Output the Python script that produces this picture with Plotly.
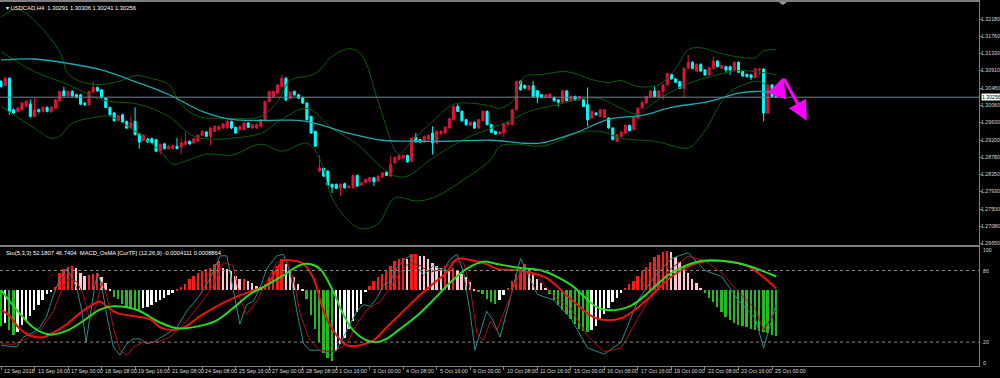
import plotly.graph_objects as go

# ---------------- data ----------------
title_text = "USDCAD,H4  1.30291 1.30306 1.30241 1.30256"
sub_title = "Sto(5,3,3) 52.1807 46.7404  MACD_OsMA [CurTF] (12,26,9) -0.0004111 0.0008864"
last_price = 1.30256

opens = [1.30641,1.30543,1.30723,1.29946,1.29906,1.29946,1.30028,1.30085,1.29783,1.29946,
         1.29906,1.30004,1.29906,1.29987,1.30167,1.30412,1.30290,1.30396,1.30314,1.30314,
         1.30110,1.30069,1.30379,1.30494,1.30437,1.30232,1.30004,1.29865,1.29677,1.29824,
         1.29660,1.29497,1.29660,1.29350,1.29187,1.29227,1.29236,1.29211,1.28925,1.29105,
         1.28990,1.28990,1.29048,1.29023,1.29089,1.29170,1.29129,1.29170,1.29317,1.29399,
         1.29293,1.29415,1.29456,1.29497,1.29497,1.29660,1.29513,1.29456,1.29456,1.29620,
         1.29497,1.29497,1.29538,1.29677,1.30151,1.30273,1.30355,1.30518,1.30723,1.30216,
         1.30396,1.30314,1.30249,1.30110,1.29783,1.29415,1.28435,1.28500,1.28435,1.28108,
         1.28108,1.28010,1.28124,1.28026,1.28026,1.28329,1.28092,1.28149,1.28190,1.28272,
         1.28190,1.28288,1.28410,1.28312,1.28639,1.28721,1.28762,1.28819,1.28680,1.29268,
         1.29211,1.29154,1.29211,1.29374,1.29129,1.29350,1.29374,1.29497,1.29701,1.30028,
         1.29906,1.29701,1.29562,1.29636,1.29497,1.29677,1.29906,1.29579,1.29415,1.29350,
         1.29374,1.29579,1.29579,1.29946,1.30641,1.30543,1.30437,1.30535,1.30412,1.30314,
         1.30249,1.30249,1.30249,1.30191,1.30134,1.30412,1.30167,1.30273,1.30191,1.30191,
         1.30069,1.29742,1.29865,1.29783,1.29758,1.29742,1.29497,1.29170,1.29293,1.29374,
         1.29562,1.29456,1.29742,1.29987,1.30110,1.30273,1.30412,1.30273,1.30396,1.30559,
         1.30820,1.30706,1.30640,1.30477,1.30967,1.31114,1.30902,1.31065,1.30927,1.30804,
         1.30967,1.31147,1.30967,1.31008,1.31008,1.30927,1.31114,1.30886,1.30820,1.30804,
         1.30739,1.30927,1.30951,1.29864,1.30559,1.30291]
highs = [1.30680,1.30760,1.30750,1.29980,1.30020,1.30140,1.30190,1.30200,1.30230,1.29980,
         1.30030,1.30030,1.30040,1.30220,1.30420,1.30518,1.30420,1.30430,1.30340,1.30340,
         1.30130,1.30420,1.30641,1.30520,1.30460,1.30250,1.30020,1.29890,1.29820,1.29850,
         1.29680,1.29783,1.30004,1.29370,1.29340,1.29250,1.29260,1.29230,1.29110,1.29130,
         1.29070,1.29090,1.29252,1.29252,1.29415,1.29190,1.29260,1.29340,1.29440,1.29420,
         1.29520,1.29560,1.29560,1.29620,1.29726,1.29680,1.29530,1.29560,1.29640,1.29640,
         1.29600,1.29610,1.29720,1.30170,1.30420,1.30420,1.30580,1.30804,1.30750,1.30400,
         1.30420,1.30340,1.30270,1.30130,1.29800,1.29430,1.28819,1.28530,1.28460,1.28130,
         1.28130,1.28130,1.28150,1.28090,1.28350,1.28350,1.28170,1.28250,1.28290,1.28290,
         1.28330,1.28410,1.28430,1.28819,1.28800,1.28840,1.28850,1.28840,1.29270,1.29374,
         1.29230,1.29310,1.29340,1.29538,1.29440,1.29440,1.29540,1.29750,1.30050,1.30085,
         1.29930,1.29720,1.29660,1.29660,1.29720,1.29930,1.29930,1.29600,1.29430,1.29420,
         1.29620,1.29660,1.29970,1.30660,1.30670,1.30570,1.30560,1.30657,1.30430,1.30340,
         1.30340,1.30350,1.30270,1.30210,1.30440,1.30430,1.30300,1.30300,1.30290,1.30210,
         1.30494,1.29930,1.29890,1.29970,1.29960,1.29760,1.29520,1.29350,1.29420,1.29580,
         1.29580,1.29780,1.30010,1.30160,1.30300,1.30430,1.30518,1.30440,1.30580,1.30860,
         1.30840,1.30730,1.30660,1.30990,1.31294,1.31140,1.31090,1.31090,1.30950,1.31010,
         1.31253,1.31170,1.31060,1.31030,1.31030,1.31140,1.31140,1.30910,1.30840,1.30830,
         1.30970,1.30967,1.30970,1.30580,1.30580,1.30306]
lows = [1.30490,1.30520,1.29820,1.29830,1.29880,1.29920,1.30000,1.29750,1.29760,1.29870,
        1.29880,1.29880,1.29860,1.29960,1.30140,1.30270,1.30270,1.30260,1.30230,1.30060,
        1.30040,1.30040,1.30360,1.30390,1.30220,1.29980,1.29800,1.29650,1.29660,1.29620,
        1.29470,1.29480,1.29310,1.28990,1.29170,1.29130,1.29110,1.28900,1.28843,1.28970,
        1.28970,1.28970,1.28970,1.28843,1.29070,1.29080,1.29110,1.29150,1.29300,1.29270,
        1.29072,1.29400,1.29440,1.29480,1.29480,1.29470,1.29350,1.29430,1.29440,1.29490,
        1.29480,1.29470,1.29520,1.29660,1.30130,1.30250,1.30330,1.30500,1.30151,1.30200,
        1.30290,1.30210,1.30090,1.29680,1.29350,1.29030,1.28410,1.28290,1.28070,1.27900,
        1.27990,1.27822,1.28000,1.28010,1.28000,1.28040,1.28070,1.28130,1.28170,1.28067,
        1.28170,1.28270,1.28310,1.28290,1.28620,1.28700,1.28740,1.28640,1.28660,1.29130,
        1.29130,1.29130,1.29190,1.28843,1.29110,1.29330,1.29350,1.29470,1.29680,1.29890,
        1.29650,1.29550,1.29540,1.29470,1.29480,1.29660,1.29560,1.29370,1.29330,1.29330,
        1.29268,1.29560,1.29560,1.29930,1.30420,1.30460,1.30420,1.30250,1.30110,1.30230,
        1.30230,1.30230,1.30150,1.30028,1.30120,1.30150,1.30150,1.30170,1.30170,1.30010,
        1.29538,1.29720,1.29800,1.29760,1.29740,1.29480,1.29190,1.29150,1.29270,1.29350,
        1.29410,1.29430,1.29720,1.29970,1.30090,1.30250,1.30250,1.30250,1.30191,1.30540,
        1.30690,1.30600,1.30460,1.30248,1.30940,1.30940,1.30880,1.30880,1.30780,1.30780,
        1.30940,1.30990,1.30950,1.30842,1.30804,1.30900,1.30850,1.30760,1.30740,1.30681,
        1.30720,1.30804,1.29660,1.29840,1.30250,1.30241]
closes = [1.30518,1.30723,1.29906,1.29865,1.29987,1.30110,1.30151,1.29783,1.29946,1.29906,
          1.30004,1.29906,1.30004,1.30191,1.30396,1.30290,1.30396,1.30290,1.30257,1.30085,
          1.30069,1.30396,1.30494,1.30412,1.30249,1.30004,1.29824,1.29677,1.29799,1.29644,
          1.29497,1.29620,1.29334,1.29154,1.29317,1.29154,1.29129,1.28925,1.29089,1.28990,
          1.29048,1.29064,1.28990,1.29129,1.29170,1.29105,1.29236,1.29317,1.29415,1.29293,
          1.29497,1.29538,1.29538,1.29595,1.29660,1.29497,1.29374,1.29538,1.29620,1.29513,
          1.29579,1.29579,1.29701,1.30151,1.30396,1.30396,1.30559,1.30723,1.30191,1.30379,
          1.30314,1.30232,1.30110,1.29701,1.29374,1.29048,1.28517,1.28312,1.28092,1.28043,
          1.28010,1.28108,1.28026,1.28067,1.28329,1.28067,1.28149,1.28231,1.28272,1.28173,
          1.28312,1.28394,1.28329,1.28598,1.28778,1.28819,1.28819,1.28664,1.29252,1.29154,
          1.29154,1.29293,1.29317,1.29129,1.29415,1.29415,1.29513,1.29726,1.30028,1.29906,
          1.29677,1.29579,1.29636,1.29497,1.29701,1.29906,1.29579,1.29391,1.29350,1.29399,
          1.29595,1.29636,1.29946,1.30641,1.30437,1.30477,1.30535,1.30273,1.30249,1.30249,
          1.30314,1.30330,1.30167,1.30134,1.30412,1.30167,1.30273,1.30191,1.30273,1.30028,
          1.29701,1.29906,1.29824,1.29946,1.29946,1.29497,1.29211,1.29334,1.29399,1.29562,
          1.29431,1.29758,1.29987,1.30134,1.30273,1.30412,1.30273,1.30412,1.30559,1.30837,
          1.30706,1.30624,1.30477,1.30967,1.31114,1.30967,1.31065,1.30902,1.30804,1.30984,
          1.31147,1.31008,1.31033,1.30927,1.30927,1.31114,1.30869,1.30780,1.30763,1.30739,
          1.30951,1.30951,1.29864,1.30559,1.30273,1.30256]

tick_labels = ["12 Sep 2018", "13 Sep 16:00", "17 Sep 00:00", "18 Sep 08:00", "19 Sep 16:00",
               "21 Sep 08:00", "24 Sep 08:00", "25 Sep 16:00", "27 Sep 00:00", "28 Sep 08:00",
               "1 Oct 16:00", "3 Oct 00:00", "4 Oct 08:00", "5 Oct 16:00", "9 Oct 00:00",
               "10 Oct 08:00", "11 Oct 16:00", "15 Oct 00:00", "16 Oct 08:00", "17 Oct 16:00",
               "19 Oct 00:00", "22 Oct 08:00", "23 Oct 16:00", "25 Oct 00:00"]
bars_per_label = 8

price_ticks = [1.32180, 1.31760, 1.31330, 1.30910, 1.30480, 1.30060, 1.29630,
               1.29200, 1.28780, 1.28350, 1.27930, 1.27500, 1.27080, 1.26650]

# moving average (teal) read at sample bars
ma_idx = [0, 8, 16, 24, 32, 40, 48, 55, 64, 71, 75, 83, 91, 99, 107, 117, 125, 129, 137, 145, 153, 160, 169, 176, 180, 185]
ma_val = [1.31173, 1.31197, 1.31089, 1.30928, 1.30641, 1.30322, 1.29906, 1.29710, 1.29686, 1.29686,
          1.29612, 1.29367, 1.29196, 1.29171, 1.29171, 1.29196, 1.29122, 1.29129, 1.29374, 1.29710,
          1.29808, 1.30004, 1.30151, 1.30354, 1.30396, 1.30379]

# Bollinger bands (dark green) read at sample bars
bbu_idx = [0, 3, 5, 9, 14, 16, 19, 23, 28, 32, 36, 40, 43, 47, 55, 62, 66, 69, 75, 79, 83, 86, 90, 94, 95,
           98, 103, 108, 113, 117, 119, 122, 125, 129, 135, 141, 145, 148, 152, 157, 161, 164, 167, 172, 180, 182, 185]
bbu_val = [1.32233, 1.32405, 1.32381, 1.32037, 1.31376, 1.30837, 1.30641, 1.30567, 1.30641, 1.30788,
           1.30715, 1.30568, 1.30078, 1.29783, 1.29734, 1.29783, 1.30151, 1.30666, 1.30837, 1.31254,
           1.31450, 1.31303, 1.30151, 1.28950, 1.28852, 1.29171, 1.29661, 1.30078, 1.30102, 1.30029,
           1.29980, 1.30151, 1.30764, 1.30813, 1.30886, 1.30690, 1.30617, 1.30666, 1.30519, 1.30568,
           1.30960, 1.31425, 1.31474, 1.31327, 1.31229, 1.31401, 1.31425]
bbm_idx = [0, 8, 16, 23, 26, 33, 40, 46, 51, 55, 62, 67, 73, 79, 85, 90, 94, 97, 103, 111, 117, 121,
           126, 133, 139, 143, 148, 152, 154, 158, 164, 171, 176, 180, 185]
bbm_val = [1.31376, 1.30886, 1.30568, 1.30225, 1.30151, 1.30078, 1.29783, 1.29294, 1.29220, 1.29245,
           1.29367, 1.29710, 1.29980, 1.29490, 1.29098, 1.28608, 1.28314, 1.28314, 1.28755, 1.29245,
           1.29490, 1.29661, 1.29906, 1.30078, 1.30225, 1.30225, 1.29980, 1.29832, 1.29980, 1.30274,
           1.30592, 1.30813, 1.30911, 1.30886, 1.30813]
bbl_idx = [0, 8, 12, 14, 17, 24, 26, 33, 38, 41, 44, 49, 55, 62, 67, 73, 76, 79, 83, 86, 90, 94, 99,
           103, 111, 117, 119, 123, 129, 133, 137, 143, 148, 156, 164, 166, 169, 171, 174, 178, 181, 185]
bbl_val = [1.30029, 1.29490, 1.29245, 1.29294, 1.29612, 1.29783, 1.29783, 1.29343, 1.28926, 1.28608,
           1.28681, 1.28853, 1.28828, 1.29098, 1.28926, 1.29122, 1.28755, 1.27775, 1.27211, 1.27015,
           1.27138, 1.27775, 1.27701, 1.27775, 1.28264, 1.28730, 1.29049, 1.29098, 1.29049, 1.29171,
           1.29367, 1.29416, 1.29245, 1.29171, 1.29000, 1.29171, 1.29588, 1.29980, 1.30396, 1.30592,
           1.30641, 1.30347]

# indicator window (0..100 scale); OsMA histogram as offsets from its zero level
osma_zero = 63.6
osma = [-30, -27, -33, -37, -35, -29, -25, -21, -16, -12, -8, -3, -1, 3, 15, 18, 20, 20.5, 19, 15,
        12, 13, 13.5, 15, 11, 6, 1.5, -5.5, -7, -11, -13.5, -15, -15.5, -16, -15, -13.6, -12.3, -10, -8, -6.3,
        -4, -2, 0.5, 2.7, 5.5, 9.5, 12.3, 15, 16.4, 17.7, 19, 21.8, 24.5, 19, 18.3, 16.4, 12.3, 9.5, 9.5, 8.2,
        6.3, 4, 2.7, 5.5, 11, 16.4, 20.5, 26.5, 21.8, 16.4, 11, 5.5, 0.5, -7, -20.5, -32.7, -43.6, -52, -57, -58.7,
        -50.4, -45, -39.5, -32.7, -26, -17.7, -11, -1, 4, 8, 11, 13.6, 16.4, 20.5, 24.5, 26.5, 27.3, 26, 30.8, 30.8,
        29.2, 28.6, 26, 23.2, 20.5, 19, 20.5, 16.4, 19, 16.4, 13.6, 11, 6.8, 0.5, -1.4, -2.7, -6.8, -9.5, -11, -8,
        -4, 2, 8, 14, 20, 22, 19, 15, 10, 6, 2, -3, -8, -12, -16, -20, -24, -28, -32, -34,
        -35, -33, -30, -25, -20, -15, -10, -6, -2, 2, 5, 8, 12, 16, 20, 24, 28, 30, 32, 33,
        32, 28, 24, 20, 15, 10, 6, 2, -2, -6, -10, -14, -18, -22, -25, -27, -29, -30, -31, -32,
        -33, -34, -35, -36, -37, -38]

# thick smooth lines
green_idx = [0, 3.7, 7.7, 11.7, 15.7, 19.6, 23.6, 26.8, 30, 33.2, 37.2, 41.1, 43.5, 47.5, 51.5, 55.4, 59.4,
             63.4, 67.4, 71.4, 73.7, 76.1, 79.3, 81.7, 84.1, 87.3, 89.7, 92, 95.2, 99.2, 103.2, 107.2, 111.1,
             115.1, 118.3, 124, 129, 136, 143, 150, 160, 167, 176, 185]
green_val = [63.6, 47.3, 32.3, 26.3, 29.6, 37.7, 47.3, 50, 49.2, 45.9, 37.7, 32.3, 31.5, 33.6, 38.3, 48.6, 60.1,
             67.7, 75.9, 84.6, 85.5, 81.4, 62.3, 43.2, 29.6, 21.4, 20, 22.7, 30.9, 41.8, 55.4, 69.9, 81.4,
             87.4, 85.5, 82, 80, 68, 48, 50, 78, 88, 86, 75]
red_idx = [0, 2.1, 4.5, 6.9, 10.1, 13.3, 15.7, 18.9, 21.2, 23.6, 25.2, 27.6, 31.6, 35.6, 38, 41.1, 44.3, 47.5,
           51.5, 55.4, 59.4, 63.4, 65.8, 67.4, 69.8, 72.2, 74.6, 77, 79.3, 82.5, 85.7, 88.9, 92, 95.2, 99.2,
           103.2, 106.4, 108.8, 112.7, 115.9, 118.3, 124, 130, 136, 142, 148, 154, 160, 166, 172, 178, 185]
red_val = [47.3, 41.8, 30.9, 25.5, 24.1, 29.6, 35, 44.5, 50, 54.1, 50, 44.5, 41.8, 39.1, 32.3, 30.1, 33.6, 41.8,
           50, 56.8, 62.3, 67.7, 81.4, 88.2, 88.2, 85.5, 73.2, 45.9, 29.6, 17.3, 17.3, 21.4, 32.3, 43.2, 56.8,
           69.1, 78.6, 89.5, 88.2, 85.5, 81.4, 80, 74, 56, 40, 40, 55, 75, 86, 88, 84, 65]

# stochastic (thin)
sto_k_idx = [0, 3.7, 5.3, 7.7, 9.3, 10.9, 12.5, 14.1, 15.7, 16.9, 18.1, 19.3, 20.3, 21.2, 22.4, 23.2, 24, 25.2,
             26.8, 28.4, 30, 31.6, 33.2, 34.8, 36.4, 39.5, 42, 44.3, 47.5, 49.9, 52.3, 53.9, 55.4, 57, 58.6, 60.2,
             61.8, 63.4, 65.8, 67.4, 69, 70.6, 72.2, 73.7, 76.1, 78.5, 80.1, 81.7, 83.3, 84.9, 86.5, 88.1, 89.7,
             91.3, 92.8, 94.4, 96, 97.6, 99.2, 100.8, 103.2, 105.6, 107.2, 108.8, 110.4, 112, 113.1, 114.7,
             115.9, 117.5, 119.1, 124, 128, 132, 136, 140, 144, 148, 152, 156, 160, 164, 168, 172, 176, 180, 182, 185]
sto_k = [17.3, 15.9, 24.1, 28.2, 32.3, 41.8, 59.5, 73.2, 81.4, 74.5, 65, 45.9, 20, 40.5, 67.7, 77.3, 67.7, 43.2,
         15.9, 9.1, 18.6, 22.7, 22.7, 18.6, 20, 26.8, 32.3, 45.9, 59.5, 73.2, 92.3, 92.3, 65, 35, 51.4, 54.1,
         65, 81.4, 92.3, 93.6, 78.6, 45.9, 18.6, 13.2, 13.2, 9.1, 13.2, 24.1, 35, 45.9, 51.4, 50, 56.8,
         67.7, 70.5, 81.4, 88.2, 92.3, 84.1, 75.9, 84.1, 80, 89.5, 93.6, 78.6, 43.2, 13.2, 32.3,
         45.9, 37.7, 24.1, 90, 60, 55, 40, 15, 10, 20, 55, 75, 90, 95, 80, 75, 55, 40, 15, 52]
sto_d_idx = [0, 2.9, 6.1, 9.3, 12.5, 14.9, 16.5, 18.1, 19.7, 21.2, 22.8, 24, 25.2, 26.8, 28.4, 30, 31.6, 34,
             37.2, 40.3, 43.5, 47.5, 50.7, 53.1, 55.4, 57, 58.6, 61, 63.4, 65.8, 68.2, 69.8, 71.4, 73.7, 76.1,
             79.3, 82.5, 84.9, 87.3, 90.5, 92.8, 95.2, 97.6, 100, 102.4, 105.6, 108, 110.4, 112, 113.6, 115.1,
             116.8, 118.3, 124, 128, 132, 136, 140, 144, 148, 152, 156, 160, 164, 168, 172, 176, 180, 182, 185]
sto_d = [18.6, 18.1, 22.7, 29.6, 45.9, 67.7, 73.2, 70.5, 59.5, 37.7, 51.4, 70.5, 59.5, 32.3, 13.2, 9.1, 15.9, 20,
         20, 24.1, 35, 51.4, 67.7, 86.8, 84.1, 56.8, 43.2, 54.1, 70.5, 86.8, 89.5, 73.2, 43.2, 21.4, 13.2,
         11.8, 18.6, 35, 47.3, 54.1, 65, 78.6, 86.8, 84.1, 78.6, 81.4, 88.2, 86.8, 65, 26.8, 21.4,
         37.7, 29.6, 80, 75, 58, 48, 25, 12, 15, 40, 65, 82, 92, 88, 78, 62, 48, 30, 47]
sto_levels = [80, 20]
sub_axis_labels = [100, 80, 20, 0]

# hand-drawn magenta arrows: (from bar, from price, to bar, to price)
arrows = [(185, 1.30232, 186.7, 1.30739), (186.7, 1.30739, 192.3, 1.29678)]

# ---------------- figure ----------------
BG = "#000000"
GRID = "#808080"
TXT = "#d8d8d8"
BULL = "#dc143c"
BEAR = "#00ffff"
FONT = "Liberation Sans"
FS = 5.4

n = len(closes)
idx = list(range(n))
x_range = [-0.24, 233.4]

fig = go.Figure()

for xs, ys in ((bbu_idx, bbu_val), (bbm_idx, bbm_val), (bbl_idx, bbl_val)):
    fig.add_trace(go.Scatter(x=xs, y=ys, mode="lines", line=dict(color="#0b5d0b", width=1, shape="spline"),
                             hoverinfo="skip", xaxis="x", yaxis="y"))
fig.add_trace(go.Scatter(x=ma_idx, y=ma_val, mode="lines", line=dict(color="#1fa9ad", width=1.3, shape="spline"),
                         hoverinfo="skip", xaxis="x", yaxis="y"))

fig.add_trace(go.Candlestick(
    x=idx, open=opens, high=highs, low=lows, close=closes,
    increasing=dict(line=dict(color=BULL, width=1), fillcolor=BULL),
    decreasing=dict(line=dict(color=BEAR, width=1), fillcolor=BEAR),
    whiskerwidth=0, xaxis="x", yaxis="y", hoverinfo="skip"))

hist_colors = []
for k, v in enumerate(osma):
    prev = osma[k - 1] if k > 0 else v
    if v >= 0:
        hist_colors.append("#ff1a1a" if v >= prev else "#ffc8d0")
    else:
        hist_colors.append("#22bb22" if v <= prev else "#ffffff")
fig.add_trace(go.Bar(x=idx, y=osma, base=osma_zero, marker=dict(color=hist_colors, line=dict(width=0)),
                     width=0.45, xaxis="x2", yaxis="y2", hoverinfo="skip"))

fig.add_trace(go.Scatter(x=sto_k_idx, y=sto_k, mode="lines", line=dict(color="#2a8c8c", width=1),
                         xaxis="x2", yaxis="y2", hoverinfo="skip"))
fig.add_trace(go.Scatter(x=sto_d_idx, y=sto_d, mode="lines", line=dict(color="#b01010", width=1),
                         xaxis="x2", yaxis="y2", hoverinfo="skip"))
fig.add_trace(go.Scatter(x=red_idx, y=red_val, mode="lines", line=dict(color="#ee1111", width=2, shape="spline"),
                         xaxis="x2", yaxis="y2", hoverinfo="skip"))
fig.add_trace(go.Scatter(x=green_idx, y=green_val, mode="lines", line=dict(color="#22dd22", width=2, shape="spline"),
                         xaxis="x2", yaxis="y2", hoverinfo="skip"))

shapes = [dict(type="line", xref="x", yref="y", x0=x_range[0], x1=x_range[1], y0=last_price, y1=last_price,
               line=dict(color="#708090", width=1))]
for lv in sto_levels:
    shapes.append(dict(type="line", xref="x2", yref="y2", x0=x_range[0], x1=x_range[1], y0=lv, y1=lv,
                       line=dict(color="#8a8a8a", width=1, dash="dot")))
# chart-shift marker at the top
shapes.append(dict(type="path", xref="x", yref="paper", path="M 185.6 1 L 187.6 1 L 186.6 0.992 Z",
                   fillcolor="#9a9a9a", line=dict(width=0)))

annotations = [
    dict(text="\u25be " + title_text, xref="paper", yref="paper", x=0.004, y=1.0, xanchor="left",
         yanchor="top", yshift=-1, showarrow=False, font=dict(family=FONT, size=5.8, color="#ffffff")),
    dict(text=sub_title, xref="paper", yref="y2 domain", x=0.004, y=1.0, xanchor="left",
         yanchor="top", yshift=-1, showarrow=False, font=dict(family=FONT, size=5.8, color="#ffffff")),
    dict(text=f"{last_price:.5f}", xref="paper", yref="y", x=1.0, y=last_price, xanchor="left",
         yanchor="middle", xshift=2, showarrow=False, bgcolor="#ffffff", borderpad=0,
         font=dict(family=FONT, size=5.2, color="#000000")),
]
for v in sub_axis_labels:
    shift = -3 if v == 100 else (3 if v == 0 else 0)
    annotations.append(dict(text=str(v), xref="paper", yref="y2", x=1.0, y=v, xanchor="left", yanchor="middle",
                            xshift=2, yshift=shift, showarrow=False, font=dict(family=FONT, size=5.2, color=TXT)))
for k, lab in enumerate(tick_labels):
    annotations.append(dict(text=lab, xref="x2", yref="paper", x=k * bars_per_label, y=0, xanchor="left",
                            yanchor="top", xshift=1, yshift=0, showarrow=False,
                            font=dict(family=FONT, size=FS, color=TXT)))
for x0, y0, x1, y1 in arrows:
    annotations.append(dict(x=x1, y=y1, ax=x0, ay=y0, xref="x", yref="y", axref="x", ayref="y",
                            showarrow=True, arrowhead=2, arrowsize=1.3, arrowwidth=3,
                            arrowcolor="#ff00ff", text=""))

fig.update_layout(
    width=1000, height=378, paper_bgcolor=BG, plot_bgcolor=BG, showlegend=False,
    margin=dict(l=0, r=21, t=0, b=12, pad=0), bargap=0, shapes=shapes, annotations=annotations,
    xaxis=dict(domain=[0, 1], range=x_range, showgrid=False, zeroline=False, showticklabels=False,
               showline=True, linecolor=GRID, linewidth=2, mirror=True, anchor="y", rangeslider=dict(visible=False)),
    yaxis=dict(domain=[0.3333, 1], range=[1.26623, 1.32601], side="right", showgrid=False, zeroline=False,
               tickvals=price_ticks, ticktext=[f"{p:.5f}" for p in price_ticks], ticks="outside", ticklen=2,
               ticklabelstandoff=-2,
               tickcolor=GRID, tickfont=dict(family=FONT, size=5.2, color=TXT), showline=True, linecolor=GRID,
               linewidth=1, mirror=True, anchor="x", automargin=False),
    xaxis2=dict(domain=[0, 1], range=x_range, showgrid=False, zeroline=False, showticklabels=False,
                tickvals=[k * bars_per_label for k in range(len(tick_labels))], ticks="outside", ticklen=3,
                tickcolor=GRID, showline=True, linecolor=GRID, linewidth=1, mirror=True, anchor="y2"),
    yaxis2=dict(domain=[0, 0.3279], range=[0, 100], side="right", showgrid=False, zeroline=False,
                showticklabels=False, showline=True, linecolor=GRID, linewidth=1,
                mirror=True, anchor="x2", automargin=False),
)

fig.write_html("out.html", config={"displayModeBar": False},
               post_script="document.body.style.margin='0px';document.body.style.background='#000';")
